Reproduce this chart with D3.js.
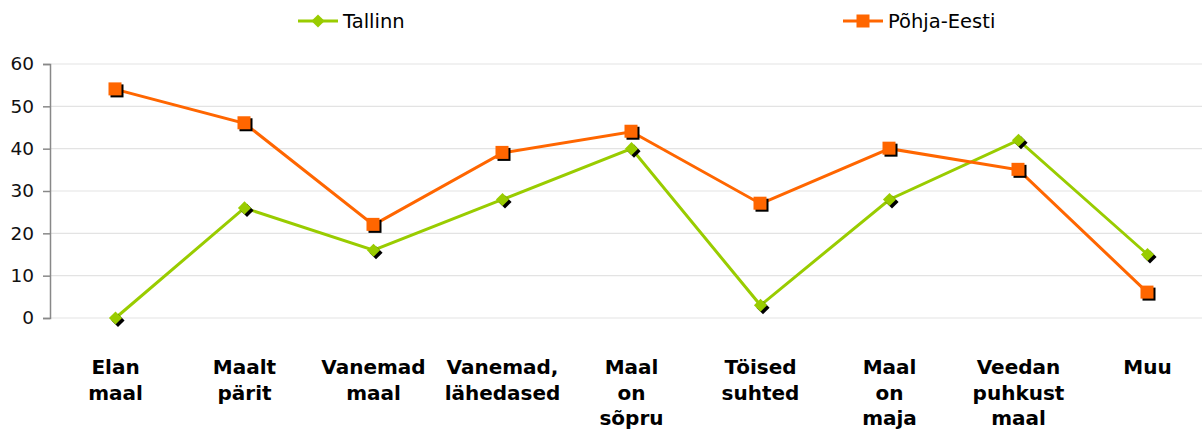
<!DOCTYPE html>
<html lang="et">
<head>
<meta charset="UTF-8">
<title>Tallinn vs Põhja-Eesti</title>
<style>
  body { margin: 0; background: #fff; }
  svg { display: block; font-family: "DejaVu Sans", Verdana, sans-serif; }
</style>
<script src="https://d3js.org/d3.v7.min.js"></script>
</head>
<body>
<svg width="1202" height="436"></svg>
<script>
const categories = [
  ["Elan", "maal"],
  ["Maalt", "pärit"],
  ["Vanemad", "maal"],
  ["Vanemad,", "lähedased"],
  ["Maal", "on", "sõpru"],
  ["Töised", "suhted"],
  ["Maal", "on", "maja"],
  ["Veedan", "puhkust", "maal"],
  ["Muu"]
];
const seriesNames = ["Tallinn", "Põhja-Eesti"];
const tallinn = [0, 26, 16, 28, 40, 3, 28, 42, 15];
const pohjaEesti = [54, 46, 22, 39, 44, 27, 40, 35, 6];
const yTicks = [0, 10, 20, 30, 40, 50, 60];

const svg = d3.select("svg");
const W = 1202;

const x = d3.scalePoint()
  .domain(d3.range(categories.length))
  .range([51, 1212])
  .padding(0.5);
const y = d3.scaleLinear().domain([0, 60]).range([318, 64]);

// gridlines
svg.append("g").selectAll("line")
  .data(yTicks)
  .join("line")
  .attr("x1", 50).attr("x2", W)
  .attr("y1", d => y(d)).attr("y2", d => y(d))
  .attr("stroke", "#e3e3e3").attr("stroke-width", 1.2);

// y axis
const yAxis = svg.append("g")
  .attr("transform", "translate(50,0)")
  .call(d3.axisLeft(y).tickValues(yTicks).tickSize(7).tickPadding(9));
yAxis.select(".domain").attr("stroke", "#888").attr("stroke-width", 1.5);
yAxis.selectAll(".tick line").attr("stroke", "#888").attr("stroke-width", 1.5);
yAxis.selectAll(".tick text")
  .attr("font-size", 18.5)
  .attr("font-family", "DejaVu Sans, Verdana, sans-serif")
  .attr("fill", "#111");

// category labels
const lab = svg.append("g").selectAll("text")
  .data(categories)
  .join("text")
  .attr("text-anchor", "middle")
  .attr("font-weight", "bold")
  .attr("font-size", 20)
  .attr("fill", "#000")
  .attr("transform", (d, i) => `translate(${x(i)},374)`);
lab.selectAll("tspan")
  .data(d => d)
  .join("tspan")
  .attr("x", 0)
  .attr("y", (d, i) => i * 25.5)
  .text(d => d);

const line = d3.line().x((d, i) => x(i)).y(d => y(d));
const diamond = d3.symbol().type(d3.symbolDiamond2).size(110);

function drawSeries(values, color, shape) {
  const g = svg.append("g");
  g.append("path")
    .datum(values)
    .attr("d", line)
    .attr("fill", "none")
    .attr("stroke", color)
    .attr("stroke-width", 3);
  const pts = g.selectAll("g.pt")
    .data(values)
    .join("g")
    .attr("class", "pt")
    .attr("transform", (d, i) => `translate(${x(i)},${y(d)})`);
  if (shape === "square") {
    pts.append("rect").attr("x", -5).attr("y", -5).attr("width", 13).attr("height", 13).attr("fill", "#000");
    pts.append("rect").attr("x", -7).attr("y", -7).attr("width", 13).attr("height", 13).attr("fill", color);
  } else {
    pts.append("path").attr("d", diamond).attr("transform", "translate(2.5,2.5)").attr("fill", "#000");
    pts.append("path").attr("d", diamond).attr("fill", color);
  }
}

drawSeries(tallinn, "#99cc00", "diamond");
drawSeries(pohjaEesti, "#ff6600", "square");

// legend
const legend = [
  { name: seriesNames[0], color: "#99cc00", shape: "diamond", x: 298 },
  { name: seriesNames[1], color: "#ff6600", shape: "square", x: 843 }
];
const lg = svg.append("g").selectAll("g")
  .data(legend)
  .join("g")
  .attr("transform", d => `translate(${d.x},21)`);
lg.append("line").attr("x1", 0).attr("x2", 40).attr("stroke", d => d.color).attr("stroke-width", 3);
lg.each(function (d) {
  const s = d3.select(this);
  if (d.shape === "square") {
    s.append("rect").attr("x", 13.5).attr("y", -6.5).attr("width", 13).attr("height", 13).attr("fill", d.color);
  } else {
    s.append("path").attr("d", diamond).attr("transform", "translate(20,0)").attr("fill", d.color);
  }
});
lg.append("text")
  .attr("x", 45).attr("y", 7)
  .attr("font-size", 19.5)
  .attr("fill", "#000")
  .text(d => d.name);
</script>
</body>
</html>
